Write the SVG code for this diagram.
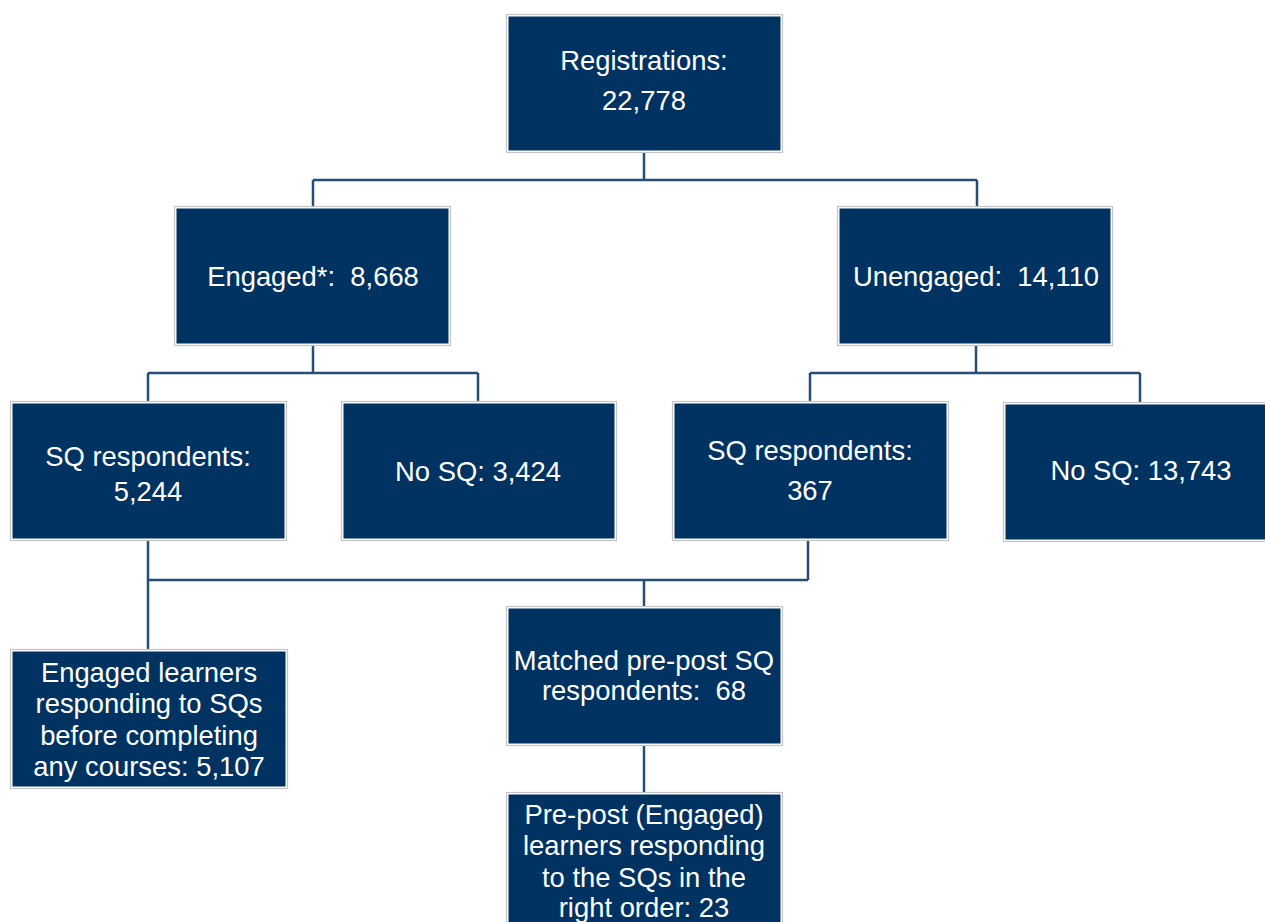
<svg xmlns="http://www.w3.org/2000/svg" width="1265" height="922" viewBox="0 0 1265 922">
<style>
.ob{fill:#ffffff;stroke:#c4c4c4;stroke-width:1.2}
.ib{fill:#003262}
.t{font-family:"Liberation Sans",Arial,sans-serif;font-size:27.4px;fill:#ffffff;text-anchor:middle;white-space:pre}
.c{fill:none;stroke:#264d75;stroke-width:2.5}
</style>
<rect width="1265" height="922" fill="#ffffff"/>
<g id="connectors">
<path class="c" d="M644,152V180M313,180H977M313,180V206M977,180V207"/>
<path class="c" d="M313,346V373M148,373H478M148,373V401M478,373V401"/>
<path class="c" d="M976,346V373M810,373H1140M810,373V401M1140,373V402"/>
<path class="c" d="M148,541V649M148,580H808M808,541V580M644,580V606"/>
<path class="c" d="M644,745V792"/>
</g>
<g id="registrations">
<rect class="ob" x="506.5" y="14.5" width="276" height="138"/>
<rect class="ib" x="508.5" y="16.5" width="272" height="134"/>
<text class="t" x="644" y="70">Registrations:</text>
<text class="t" x="644" y="110">22,778</text>
</g>
<g id="engaged">
<rect class="ob" x="174.5" y="206.5" width="276" height="139"/>
<rect class="ib" x="176.5" y="208.5" width="272" height="135"/>
<text class="t" x="313" y="286" xml:space="preserve">Engaged*:  8,668</text>
</g>
<g id="unengaged">
<rect class="ob" x="837.5" y="206.5" width="275" height="139"/>
<rect class="ib" x="839.5" y="208.5" width="271" height="135"/>
<text class="t" x="976" y="286" xml:space="preserve">Unengaged:  14,110</text>
</g>
<g id="sq-engaged">
<rect class="ob" x="10.5" y="401.5" width="276" height="139"/>
<rect class="ib" x="12.5" y="403.5" width="272" height="135"/>
<text class="t" x="148" y="466">SQ respondents:</text>
<text class="t" x="148" y="501">5,244</text>
</g>
<g id="nosq-engaged">
<rect class="ob" x="341.5" y="401.5" width="275" height="139"/>
<rect class="ib" x="343.5" y="403.5" width="271" height="135"/>
<text class="t" x="478" y="481">No SQ: 3,424</text>
</g>
<g id="sq-unengaged">
<rect class="ob" x="672.5" y="401.5" width="276" height="139"/>
<rect class="ib" x="674.5" y="403.5" width="272" height="135"/>
<text class="t" x="810" y="460">SQ respondents:</text>
<text class="t" x="810" y="500">367</text>
</g>
<g id="nosq-unengaged">
<rect class="ob" x="1003.5" y="402.5" width="276" height="139"/>
<rect class="ib" x="1005.5" y="404.5" width="272" height="135"/>
<text class="t" x="1141" y="480">No SQ: 13,743</text>
</g>
<g id="engaged-learners">
<rect class="ob" x="10.5" y="649.5" width="277" height="139"/>
<rect class="ib" x="12.5" y="651.5" width="273" height="135"/>
<text class="t" x="149" y="682">Engaged learners</text>
<text class="t" x="149" y="713">responding to SQs</text>
<text class="t" x="149" y="745">before completing</text>
<text class="t" x="149" y="776">any courses: 5,107</text>
</g>
<g id="matched">
<rect class="ob" x="506.5" y="606.5" width="276" height="139"/>
<rect class="ib" x="508.5" y="608.5" width="272" height="135"/>
<text class="t" x="644" y="670">Matched pre-post SQ</text>
<text class="t" x="644" y="700" xml:space="preserve">respondents:  68</text>
</g>
<g id="prepost">
<rect class="ob" x="506.5" y="792.5" width="276" height="140"/>
<rect class="ib" x="508.5" y="794.5" width="272" height="136"/>
<text class="t" x="644" y="824">Pre-post (Engaged)</text>
<text class="t" x="644" y="855">learners responding</text>
<text class="t" x="644" y="887">to the SQs in the</text>
<text class="t" x="644" y="917">right order: 23</text>
</g>
</svg>
